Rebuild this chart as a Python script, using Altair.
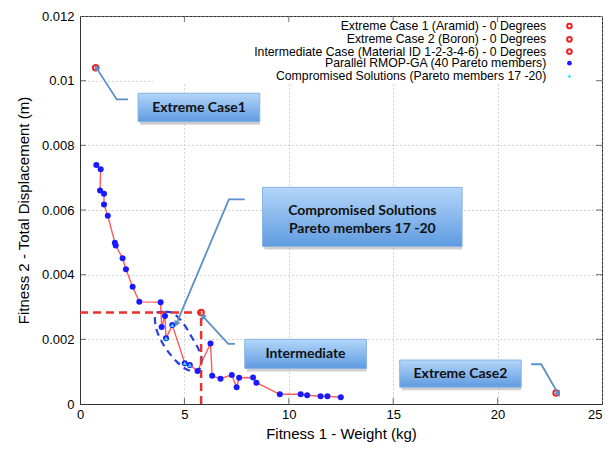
import altair as alt
import pandas as pd

# ---- data ----
pareto_x = [0.78, 0.99, 0.96, 1.15, 1.15, 1.33, 1.67, 1.71, 2.04, 2.20, 2.52, 2.84, 3.86,
            3.91, 4.07, 4.12, 4.42, 5.02, 5.26, 5.63, 6.25, 6.33, 6.73, 7.27, 7.50, 7.62,
            8.29, 8.45, 9.57, 10.57, 10.88, 11.52, 11.85, 12.49]
pareto_y = [0.00739, 0.00726, 0.00660, 0.00650, 0.00617, 0.00582, 0.00499, 0.00490, 0.00451,
            0.00417, 0.00363, 0.00316, 0.00315, 0.00238, 0.00272, 0.00203, 0.00244, 0.00126,
            0.00121, 0.00102, 0.00187, 0.00087, 0.00078, 0.00090, 0.00052, 0.00081, 0.00082,
            0.00066, 0.00030, 0.00030, 0.00027, 0.00024, 0.00024, 0.00021]
comp_x = [4.12, 4.42, 5.02, 5.26]
comp_y = [0.00203, 0.00244, 0.00126, 0.00121]

ext_names = ["Extreme Case 1", "Extreme Case 2", "Intermediate"]
ext_x = [0.75, 22.8, 5.8]
ext_y = [0.01040, 0.00034, 0.00283]

legend_labels = ["Extreme Case 1 (Aramid) - 0 Degrees",
                 "Extreme Case 2 (Boron)    - 0 Degrees",
                 "Intermediate Case (Material ID 1-2-3-4-6) - 0 Degrees",
                 "Parallel RMOP-GA (40 Pareto members)",
                 "Compromised Solutions (Pareto members 17 -20)"]
legend_y = [0.01169, 0.01128, 0.01090, 0.01054, 0.01015]

ellipse_x = [3.64, 4.07, 4.46, 4.94, 5.34, 5.66, 5.82, 5.74, 5.50, 5.02, 4.63, 4.22, 3.91,
             3.67, 3.59]
ellipse_y = [0.00281, 0.00285, 0.00281, 0.00250, 0.00208, 0.00172, 0.00141, 0.00110,
             0.00100, 0.00110, 0.00131, 0.00162, 0.00193, 0.00229, 0.00260]

box_names = ["Extreme Case1", "Compromised", "Intermediate", "Extreme Case2"]
box_x1 = [2.78, 8.74, 7.89, 15.31]
box_x2 = [8.61, 18.30, 13.72, 21.13]
box_y1 = [0.00873, 0.00487, 0.00110, 0.00052]
box_y2 = [0.00961, 0.00670, 0.00200, 0.00136]

box_text = ["Extreme Case1", "Compromised Solutions", "Pareto members 17 -20",
            "Intermediate", "Extreme Case2"]
box_text_x = [5.70, 13.52, 13.52, 10.80, 18.22]
box_text_y = [0.00917, 0.00597, 0.00541, 0.00155, 0.00094]

arrow_group = ["a1"] * 3 + ["a2"] * 3 + ["a3"] * 3 + ["a4"] * 3
arrow_x = [2.30, 1.76, 0.80, 7.89, 7.13, 4.63, 7.42, 7.10, 5.90, 21.61, 22.09, 22.89]
arrow_y = [0.00942, 0.00942, 0.01038, 0.00633, 0.00633, 0.00250, 0.00186, 0.00186, 0.00270,
           0.00123, 0.00123, 0.00033]
arrow_head_angle = [327, 203, 317, 150]

x_ticks = [5, 10, 15, 20]
y_ticks = [0.002, 0.004, 0.006, 0.008, 0.010]

# ---- tables ----
pareto = pd.DataFrame({"x": pareto_x, "y": pareto_y, "i": range(len(pareto_x))})
comp = pd.DataFrame({"x": comp_x, "y": comp_y})
ext = pd.DataFrame({"name": ext_names, "x": ext_x, "y": ext_y})
leg = pd.DataFrame({"label": legend_labels, "y": legend_y,
                    "tx": [22.33] * 5, "mx": [23.44] * 5,
                    "kind": ["ext", "ext", "ext", "par", "comp"]})
ell = pd.DataFrame({"x": ellipse_x, "y": ellipse_y, "i": range(len(ellipse_x))})
boxes = pd.DataFrame({"name": box_names, "x1": box_x1, "x2": box_x2, "y1": box_y1, "y2": box_y2})
btext = pd.DataFrame({"t": box_text, "x": box_text_x, "y": box_text_y})
arrows = pd.DataFrame({"g": arrow_group, "x": arrow_x, "y": arrow_y, "i": range(len(arrow_x))})
heads = arrows.groupby("g").tail(1).copy()
heads["ang"] = arrow_head_angle
inter = ext[ext["name"] == "Intermediate"].iloc[0]
guides = pd.DataFrame({"x": [0.0, inter.x], "x2": [inter.x, inter.x],
                       "y": [inter.y, 0.0], "y2": [inter.y, inter.y]})
legbg = pd.DataFrame({"x": [3.5], "x2": [24.96], "y": [0.00993], "y2": [0.01196]})
xt = pd.DataFrame({"v": x_ticks})
yt = pd.DataFrame({"v": y_ticks})

XS = alt.Scale(domain=[0, 25], nice=False)
YS = alt.Scale(domain=[0, 0.012], nice=False)
FONT = "Liberation Sans"

base_x = alt.X("x:Q", scale=XS, title="Fitness 1 - Weight (kg)",
               axis=alt.Axis(values=[0, 5, 10, 15, 20, 25], format="~g",
                             labelAlign={"condition": {"test": "datum.value >= 25", "value": "right"},
                                         "value": "center"}))
base_y = alt.Y("y:Q", scale=YS, title="Fitness 2 - Total Displacement (m)",
               axis=alt.Axis(values=[0, 0.002, 0.004, 0.006, 0.008, 0.010, 0.012], format="~g"))

# legend white background hides grid
bg = alt.Chart(legbg).mark_rect(color="white").encode(
    x=alt.X("x:Q", scale=XS), x2="x2:Q", y=alt.Y("y:Q", scale=YS), y2="y2:Q")

ellipse = alt.Chart(ell).mark_line(interpolate="cardinal-closed", color="#2a3fe0",
                                   strokeDash=[7, 5], strokeWidth=2.2).encode(
    x=alt.X("x:Q", scale=XS), y=alt.Y("y:Q", scale=YS), order="i:O")

guide_lines = alt.Chart(guides).mark_rule(color="#e8322b", strokeDash=[8, 5], strokeWidth=2.5).encode(
    x=alt.X("x:Q", scale=XS), x2="x2:Q", y=alt.Y("y:Q", scale=YS), y2="y2:Q")

pline = alt.Chart(pareto).mark_line(color="#ff5a5a", strokeWidth=1.4).encode(
    x=base_x, y=base_y, order="i:O")
ppts = alt.Chart(pareto).mark_circle(color="#1a1aff", size=36, opacity=1).encode(
    x=alt.X("x:Q", scale=XS), y=alt.Y("y:Q", scale=YS))
cpts = alt.Chart(comp).mark_point(shape="triangle-up", filled=True, color="#38e0f5",
                                  size=18, opacity=1).encode(
    x=alt.X("x:Q", scale=XS), y=alt.Y("y:Q", scale=YS))
epts = alt.Chart(ext).mark_point(shape="circle", filled=False, color="#ee2222",
                                 size=30, strokeWidth=2, opacity=1).encode(
    x=alt.X("x:Q", scale=XS), y=alt.Y("y:Q", scale=YS))

grad = alt.Gradient(gradient="linear",
                    stops=[alt.GradientStop(color="#b4d6fa", offset=0),
                           alt.GradientStop(color="#5f9be0", offset=1)],
                    x1=0, x2=0, y1=0, y2=1)
shadow = alt.Chart(boxes).mark_rect(color="#777777", opacity=0.35, xOffset=2, yOffset=3).encode(
    x=alt.X("x1:Q", scale=XS), x2="x2:Q", y=alt.Y("y1:Q", scale=YS), y2="y2:Q")
brect = alt.Chart(boxes).mark_rect(color=grad, stroke="#8ab4e0", strokeWidth=1).encode(
    x=alt.X("x1:Q", scale=XS), x2="x2:Q", y=alt.Y("y1:Q", scale=YS), y2="y2:Q")
btxt = alt.Chart(btext).mark_text(font="Lato", fontWeight="bold", fontSize=14,
                                  color="#111111", align="center", baseline="middle").encode(
    x=alt.X("x:Q", scale=XS), y=alt.Y("y:Q", scale=YS), text="t:N")

arrow_lines = alt.Chart(arrows).mark_line(color="#5b8fc7", strokeWidth=1.8).encode(
    x=alt.X("x:Q", scale=XS), y=alt.Y("y:Q", scale=YS), detail="g:N", order="i:O")
arrow_heads = alt.Chart(heads).mark_point(shape="triangle", filled=True, color="#5b8fc7",
                                          size=45, opacity=1).encode(
    x=alt.X("x:Q", scale=XS), y=alt.Y("y:Q", scale=YS), angle=alt.Angle("ang:Q", scale=None))

leg_text = alt.Chart(leg).mark_text(font=FONT, fontSize=12.25, align="right", baseline="middle",
                                    color="#000000").encode(
    x=alt.X("tx:Q", scale=XS), y=alt.Y("y:Q", scale=YS), text="label:N")
leg_ext = alt.Chart(leg[leg.kind == "ext"]).mark_point(shape="circle", filled=False, color="#ee2222",
                                                       size=22, strokeWidth=2, opacity=1).encode(
    x=alt.X("mx:Q", scale=XS), y=alt.Y("y:Q", scale=YS))
leg_par = alt.Chart(leg[leg.kind == "par"]).mark_circle(color="#1a1aff", size=22, opacity=1).encode(
    x=alt.X("mx:Q", scale=XS), y=alt.Y("y:Q", scale=YS))
leg_comp = alt.Chart(leg[leg.kind == "comp"]).mark_point(shape="triangle-up", filled=True,
                                                         color="#38e0f5", size=16, opacity=1).encode(
    x=alt.X("mx:Q", scale=XS), y=alt.Y("y:Q", scale=YS))

tick_bottom = alt.Chart(xt).mark_tick(orient="vertical", size=12, thickness=1, color="#333",
                                      clip=True).encode(
    x=alt.X("v:Q", scale=XS), y=alt.datum(0, scale=YS))
tick_top = alt.Chart(xt).mark_tick(orient="vertical", size=12, thickness=1, color="#333",
                                   clip=True).encode(
    x=alt.X("v:Q", scale=XS), y=alt.datum(0.012, scale=YS))
tick_left = alt.Chart(yt).mark_tick(orient="horizontal", size=12, thickness=1, color="#333",
                                    clip=True).encode(
    y=alt.Y("v:Q", scale=YS), x=alt.datum(0, scale=XS))
tick_right = alt.Chart(yt).mark_tick(orient="horizontal", size=12, thickness=1, color="#333",
                                     clip=True).encode(
    y=alt.Y("v:Q", scale=YS), x=alt.datum(25, scale=XS))

chart = alt.layer(
    pline, bg, ellipse, guide_lines, ppts, cpts, epts, shadow, brect, btxt,
    arrow_lines, arrow_heads, leg_text, leg_ext, leg_par, leg_comp,
    tick_bottom, tick_top, tick_left, tick_right
).properties(
    width=522, height=388,
    autosize=alt.AutoSizeParams(type="none"),
    padding={"left": 72, "top": 8, "right": 2, "bottom": 38},
    background="white"
).configure_axis(
    labelFont=FONT, titleFont=FONT, labelFontSize=13, titleFontSize=15,
    labelColor="#000", titleColor="#000", titleFontWeight="normal",
    domainColor="#333", tickSize=0,
    grid=True, gridColor="#aaaaaa", gridDash=[1, 3], gridWidth=1
).configure_axisX(titlePadding=5, labelPadding=4, labelFlush=False)
chart = chart.configure_axisY(titlePadding=10, labelPadding=6, labelFlush=False).configure_view(
    stroke="#333", strokeWidth=1)

chart.save("out.html", embed_options={"renderer": "svg", "actions": False})
